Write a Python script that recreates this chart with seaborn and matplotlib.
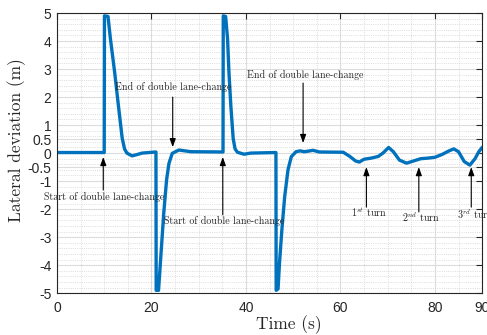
import matplotlib
matplotlib.use('Agg')
import matplotlib.pyplot as plt
import seaborn as sns
from matplotlib.ticker import MultipleLocator

# time (s) and lateral deviation (m)
t = [0, 9.95, 10.0, 10.05, 10.8, 11.3, 12.2, 13.0, 13.8, 14.3, 14.8, 15.9, 17.0, 18.0,
     20.95, 21.0, 21.5, 21.9, 22.6, 23.2, 23.7, 24.4, 25.8, 28.3,
     35.15, 35.2, 35.7, 36.1, 36.4, 36.8, 37.3, 37.7, 38.2, 39.6, 41.0,
     46.35, 46.4, 46.8, 47.1, 47.6, 48.2, 48.9, 49.6, 50.6, 51.5, 52.3, 53.2, 54.2, 55.5,
     60.6, 62.0, 63.2, 64.0, 65.0, 66.5, 68.0, 69.0, 70.2, 71.2, 72.5, 74.0, 75.5,
     77.0, 78.5, 80.0, 81.5, 83.0, 84.0, 85.0, 86.2, 87.4, 88.5, 89.3, 90.0, 91.0]
dev = [0.02, 0.02, 0.02, 4.9, 4.88, 4.1, 2.9, 1.7, 0.54, 0.15, 0.0, -0.1, -0.05, 0.0,
       0.04, -4.9, -4.9, -3.9, -2.15, -0.96, -0.37, -0.01, 0.11, 0.05,
       0.04, 4.9, 4.88, 4.1, 2.9, 1.7, 0.52, 0.15, 0.03, -0.04, 0.0,
       0.02, -4.9, -4.85, -3.94, -2.75, -1.56, -0.6, -0.13, 0.05, 0.08, 0.05, 0.07, 0.1, 0.04,
       0.03, -0.12, -0.28, -0.32, -0.22, -0.18, -0.12, 0.0, 0.2, 0.05, -0.25, -0.36, -0.28,
       -0.2, -0.18, -0.15, -0.05, 0.08, 0.15, 0.05, -0.3, -0.43, -0.2, 0.05, 0.2, 0.3]

x_ticks = [0, 20, 40, 60, 80, 90]
y_ticks = [-5, -4, -3, -2, -1, -0.5, 0, 0.5, 1, 2, 3, 4, 5]
y_ticklabels = ['-5', '-4', '-3', '-2', '-1', '-0.5', '0', '0.5', '1', '2', '3', '4', '5']

start_label = 'Start of double lane-change'
end_label = 'End of double lane-change'
turn_labels = [r'$1^{st}$ turn', r'$2^{nd}$ turn', r'$3^{rd}$ turn']

sns.set_style('white')
plt.rcParams['font.family'] = ['Liberation Sans', 'DejaVu Sans']
plt.rcParams['mathtext.fontset'] = 'cm'

fig = plt.figure(figsize=(4.87, 3.35), dpi=100)
ax = fig.add_axes([0.117, 0.125, 0.873, 0.836])

sns.lineplot(x=t, y=dev, estimator=None, sort=False, color='#0072BD', lw=2.4, ax=ax)

ax.set_xlim(0, 90)
ax.set_ylim(-5, 5)
ax.set_xticks(x_ticks)
ax.set_yticks(y_ticks)
ax.set_yticklabels(y_ticklabels)
ax.xaxis.set_minor_locator(MultipleLocator(5))
ax.yaxis.set_minor_locator(MultipleLocator(0.2))
ax.grid(True, which='major', color='#dcdcdc', lw=0.8, ls='-')
ax.grid(True, which='minor', color='#d0d0d0', lw=0.6, ls=':')
ax.set_axisbelow(True)
ax.tick_params(which='major', direction='in', top=True, right=True, length=4,
               width=0.8, color='#262626', labelsize=10, labelcolor='#262626')
ax.tick_params(axis='x', pad=6)
ax.tick_params(axis='y', pad=4)
ax.tick_params(which='minor', length=0)
for s in ax.spines.values():
    s.set_color('#262626')
    s.set_linewidth(0.8)

ax.set_xlabel('Time (s)', family='cmr10', fontsize=12.5, va='center')
ax.set_ylabel('Lateral deviation (m)', family='cmr10', fontsize=12.5, va='center')
ax.xaxis.set_label_coords(0.546, -0.114)
ax.yaxis.set_label_coords(-0.094, 0.546)

arrow = dict(arrowstyle='-|>,head_length=0.5,head_width=0.18', color='black', lw=0.8,
             shrinkA=0, shrinkB=0)
fs = 7.2

def note(label, xt, yt, xa, ya_tail, ya_tip):
    ax.annotate('', xy=(xa, ya_tip), xytext=(xa, ya_tail), arrowprops=arrow)
    ax.text(xt, yt, label, ha='center', va='center', fontsize=fs, family='cmr10')

note(start_label, 9.9, -1.57, 9.8, -1.32, -0.14)
note(end_label, 24.6, 2.36, 24.5, 2.0, 0.21)
note(start_label, 35.3, -2.43, 35.1, -2.2, -0.14)
note(end_label, 52.5, 2.79, 52.1, 2.5, 0.36)

ax.annotate('', xy=(65.5, -0.5), xytext=(65.5, -1.93), arrowprops=arrow)
ax.annotate('', xy=(76.6, -0.5), xytext=(76.6, -2.1), arrowprops=arrow)
ax.annotate('', xy=(87.7, -0.5), xytext=(87.7, -1.93), arrowprops=arrow)
for xt, yt, lab in zip([66.0, 77.0, 88.6], [-2.14, -2.29, -2.2], turn_labels):
    ax.text(xt, yt, lab, ha='center', va='center', fontsize=fs, family='cmr10')

fig.savefig('out.png', dpi=100)
